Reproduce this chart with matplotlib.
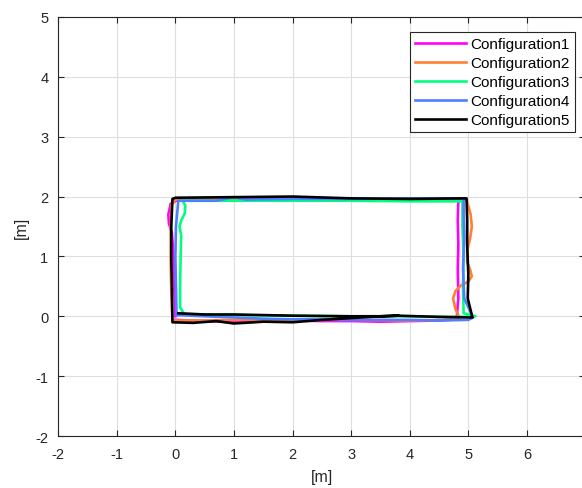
import matplotlib
matplotlib.use("Agg")
import matplotlib.pyplot as plt

plt.rcParams['font.family'] = ['Liberation Sans', 'DejaVu Sans']
plt.rcParams['axes.unicode_minus'] = False

# trajectories (x, y) in metres
conf1_x = [0.00, 0.5, 1.0, 1.5, 2.0, 2.5, 3.0, 3.5, 4.0, 4.5, 4.80, 4.83, 4.82, 4.83, 4.82, 4.83, 4.5, 4.0, 3.0, 2.0, 1.0, 0.3, 0.05, -0.08, -0.12, -0.11, -0.06, -0.03, -0.02, 0.00]
conf1_y = [-0.06, -0.08, -0.10, -0.09, -0.07, -0.08, -0.08, -0.09, -0.08, -0.07, -0.05, 0.3, 0.8, 1.2, 1.6, 1.95, 1.95, 1.94, 1.94, 1.95, 1.93, 1.94, 1.95, 1.88, 1.70, 1.55, 1.40, 1.0, 0.5, 0.0]

conf2_x = [-0.05, 0.5, 1.0, 2.0, 3.0, 4.0, 4.7, 4.85, 4.78, 4.74, 4.78, 4.88, 5.00, 5.06, 5.03, 4.98, 4.98, 5.03, 5.06, 5.04, 4.97, 4.5, 3.5, 2.5, 1.5, 0.5, 0.0, -0.07, -0.08, -0.08, -0.07, -0.05]
conf2_y = [-0.07, -0.07, -0.06, -0.06, -0.06, -0.07, -0.06, -0.02, 0.12, 0.30, 0.42, 0.52, 0.58, 0.67, 0.78, 0.90, 1.10, 1.30, 1.50, 1.70, 1.95, 1.95, 1.95, 1.95, 1.95, 1.96, 1.95, 1.85, 1.4, 0.9, 0.4, -0.07]

conf3_x = [0.15, 0.5, 1.0, 2.0, 3.0, 3.7, 4.0, 4.5, 4.9, 5.12, 4.92, 4.91, 4.92, 4.90, 4.90, 4.5, 4.0, 3.0, 2.0, 1.0, 0.3, 0.12, 0.17, 0.16, 0.10, 0.07, 0.10, 0.09, 0.08, 0.08, 0.15]
conf3_y = [0.04, 0.03, 0.02, 0.01, 0.00, 0.00, 0.00, -0.01, -0.01, 0.00, 0.05, 0.5, 1.0, 1.5, 1.92, 1.92, 1.92, 1.93, 1.93, 1.93, 1.93, 1.93, 1.85, 1.72, 1.60, 1.50, 1.35, 1.0, 0.5, 0.15, 0.04]

conf4_x = [0.02, 0.5, 1.0, 1.5, 2.0, 2.5, 3.0, 3.5, 4.0, 4.5, 5.0, 5.08, 4.93, 4.91, 4.93, 4.92, 4.92, 4.5, 4.0, 3.0, 2.0, 1.2, 1.0, 0.9, 0.7, 0.3, 0.05, 0.01, 0.00, 0.01, 0.02]
conf4_y = [0.02, 0.00, -0.02, -0.04, -0.05, -0.05, -0.06, -0.06, -0.06, -0.07, -0.06, -0.02, 0.3, 0.8, 1.3, 1.7, 1.97, 1.97, 1.97, 1.96, 1.96, 1.95, 1.99, 1.97, 1.93, 1.93, 1.93, 1.5, 1.0, 0.5, 0.02]

conf5_x = [0.05, 0.5, 1.0, 2.0, 3.0, 3.5, 3.8, 4.5, 5.07, 4.99, 5.00, 4.98, 4.98, 4.97, 4.0, 3.0, 2.0, 1.0, 0.0, -0.05, -0.07, -0.07, -0.06, -0.05, 0.3, 0.7, 1.0, 1.5, 2.0, 2.5, 3.0, 3.5, 3.8]
conf5_y = [0.05, 0.03, 0.03, 0.01, 0.00, 0.00, 0.01, -0.01, -0.02, 0.30, 0.70, 1.20, 1.60, 1.97, 1.96, 1.97, 2.00, 1.99, 1.98, 1.96, 1.50, 1.00, 0.50, -0.10, -0.11, -0.08, -0.12, -0.09, -0.10, -0.06, -0.03, 0.00, 0.01]

labels = ["Configuration1", "Configuration2", "Configuration3", "Configuration4", "Configuration5"]
colors = ["#ff00ff", "#ff8033", "#00ff80", "#4d80ff", "#000000"]
xs = [conf1_x, conf2_x, conf3_x, conf4_x, conf5_x]
ys = [conf1_y, conf2_y, conf3_y, conf4_y, conf5_y]

fig = plt.figure(figsize=(5.82, 4.89), dpi=100)
ax = fig.add_axes([0.100, 0.1063, 0.906, 0.857])

for x, y, c, lab in zip(xs, ys, colors, labels):
    ax.plot(x, y, color=c, lw=1.9, label=lab)

ax.set_xlim(-2, 7)
ax.set_ylim(-2, 5)
ax.set_xticks(range(-2, 8))
ax.set_yticks(range(-2, 6))
ax.grid(True, color="#dedede", lw=0.8)
ax.set_axisbelow(True)
ax.tick_params(direction="in", length=4, colors="#262626", labelsize=10.5, top=True, right=True)
ax.tick_params(axis="x", pad=8)
ax.tick_params(axis="y", pad=7)
for s in ax.spines.values():
    s.set_color("#262626")
    s.set_linewidth(0.8)
ax.set_xlabel("[m]", fontsize=11.5, color="#262626", labelpad=6)
ax.set_ylabel("[m]", fontsize=11.5, color="#262626", labelpad=5)

leg = ax.legend(loc="upper right", bbox_to_anchor=(0.98, 0.965), fontsize=11, handlelength=3.3,
                fancybox=False, framealpha=1, edgecolor="#262626", borderpad=0.35,
                labelspacing=0.33, handletextpad=0.3, borderaxespad=0)
leg.get_frame().set_linewidth(0.8)

fig.savefig("out.png", dpi=100)
